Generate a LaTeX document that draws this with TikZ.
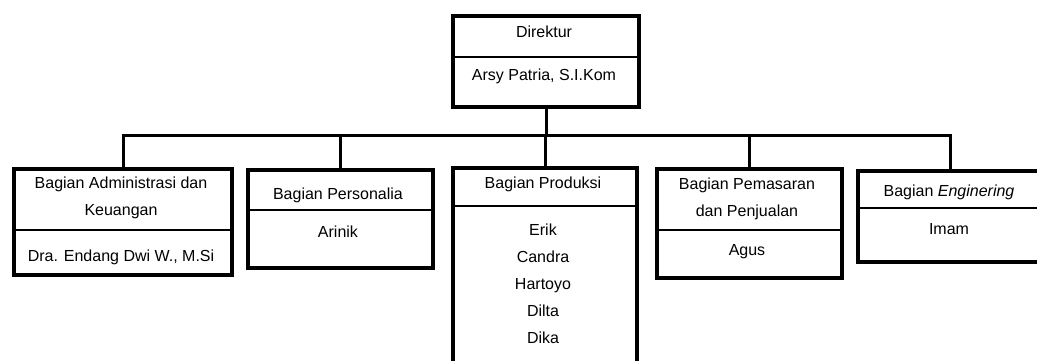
\documentclass[tikz,border=0pt]{standalone}
\usepackage{fontspec}
\setmainfont{Liberation Sans}

\tikzset{
unit/.style  = {draw, line width=4pt, rectangle, anchor=north west, inner sep=0pt},
split/.style = {draw, line width=1.3pt},
link/.style  = {draw, line width=3pt},
}

\begin{document}
\begin{tikzpicture}[x=1pt, y=-1pt, font=\fontsize{16}{27}\selectfont,
    txt/.style={align=center, inner sep=0pt}]
    \useasboundingbox (0,0) rectangle (1037,360);
    \clip (0,0) rectangle (1037,360);
    % the boxes
    \node[unit, minimum width=186pt, minimum height=91pt]  (dir)  at (451,14)  {};
    \node[unit, minimum width=218pt, minimum height=106pt] (adm)  at (12,167)  {};
    \node[unit, minimum width=185pt, minimum height=98pt]  (pers) at (246,168) {};
    \node[unit, minimum width=184pt, minimum height=214pt] (prod) at (451,166) {};
    \node[unit, minimum width=185pt, minimum height=109pt] (pem)  at (655,167) {};
    \node[unit, minimum width=185pt, minimum height=91pt]  (eng)  at (856,169) {};
    % split lines
    \draw[split] (dir.west |- 0,57)   -- (dir.east |- 0,57);
    \draw[split] (adm.west |- 0,230)  -- (adm.east |- 0,230);
    \draw[split] (pers.west |- 0,210) -- (pers.east |- 0,210);
    \draw[split] (prod.west |- 0,206) -- (prod.east |- 0,206);
    \draw[split] (pem.west |- 0,230)  -- (pem.east |- 0,230);
    \draw[split] (eng.west |- 0,208)  -- (eng.east |- 0,208);
    % texts
    \node[txt] (dirhead)  at (544,32)  {Direktur};
    \node[txt] (dirname)  at (544,76)  {Arsy Patria, S.I.Kom};
    \node[txt] (admhead)  at (121,198) {Bagian Administrasi dan\\Keuangan};
    \node[txt] (admname)  at (121,257) {Dra. Endang Dwi W., M.Si};
    \node[txt] (pershead) at (338,195) {Bagian Personalia};
    \node[txt] (persname) at (338,232) {Arinik};
    \node[txt] (prodhead) at (543,184) {Bagian Produksi};
    \node[txt] (prodname) at (543,284) {Erik\\Candra\\Hartoyo\\Dilta\\Dika};
    \node[txt] (pemhead)  at (747,199) {Bagian Pemasaran\\dan Penjualan};
    \node[txt] (pemname)  at (747,252) {Agus};
    \node[txt] (enghead)  at (949,192) {Bagian \textit{Enginering}};
    \node[txt] (engname)  at (949,229) {Imam};
    % connectors
    \coordinate (bar) at (546,135);
    \draw[link] (dir.south) -- (dir.south |- bar);
    \draw[link] (adm.north) -- (adm.north |- bar) -| (eng.north);
    \foreach \n in {pers,prod,pem}
        \draw[link] (\n.north) -- (\n.north |- bar);
\end{tikzpicture}
\end{document}
